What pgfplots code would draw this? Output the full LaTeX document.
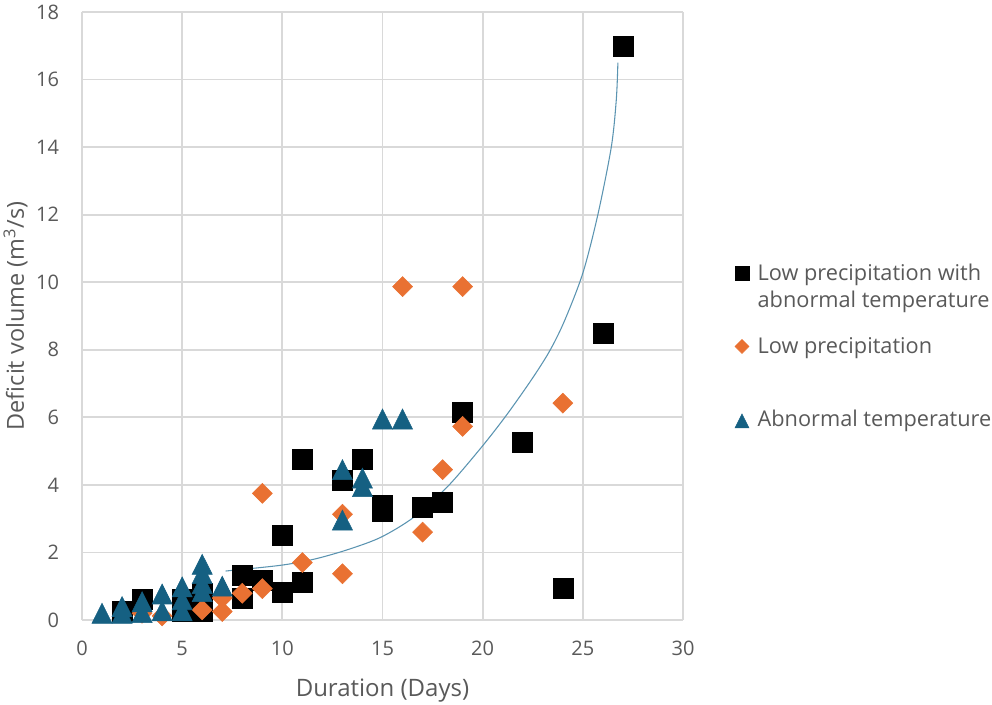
\documentclass[border=0pt]{standalone}
\usepackage{pgfplots}
\pgfplotsset{compat=1.18}
\usepackage{fontspec}
\setmainfont{Open Sans}
\definecolor{txtgray}{HTML}{595959}
\definecolor{gridgray}{HTML}{D9D9D9}
\definecolor{myorange}{HTML}{E97132}
\definecolor{myblue}{HTML}{156082}
\definecolor{trend}{HTML}{5B94B1}
\pgfplotsset{
  leg sq/.style={legend image code/.code={\draw[##1, mark size=5.25pt] plot coordinates {(0pt,5.25pt)};}},
  leg di/.style={legend image code/.code={\draw[##1, mark size=3.7pt] plot coordinates {(0pt,5.25pt)};}},
  leg tr/.style={legend image code/.code={\draw[##1, mark size=6.0pt] plot coordinates {(0pt,5.25pt)};}},
}
\begin{document}
\begin{tikzpicture}
\path[use as bounding box] (-61.5pt,-63pt) rectangle (682.5pt,465pt);
\begin{axis}[
  at={(0pt,0pt)}, anchor=south west,
  scale only axis, width=450.75pt, height=456pt,
  xmin=0, xmax=30, ymin=0, ymax=18,
  xtick={0,5,...,30}, ytick={0,2,...,18},
  grid=major,
  major grid style={draw=gridgray, line width=1.4pt},
  axis line style={draw=none},
  major tick length=0pt,
  clip=false,
  /pgf/number format/assume math mode=true,
  ticklabel style={font=\fontsize{15}{18}\selectfont, text=txtgray},
  xticklabel style={anchor=north, inner sep=0pt, yshift=-15.75pt},
  yticklabel style={anchor=east, inner sep=0pt, xshift=-17pt},
  xlabel={Duration (Days)},
  ylabel={Deficit volume (m\textsuperscript{3}/s)},
  label style={text=txtgray},
  xlabel style={font=\fontsize{18}{22}\selectfont, at={([yshift=-44pt]axis description cs:0.5,0)}, anchor=north, inner sep=0pt},
  ylabel style={font=\fontsize{17.6}{22}\selectfont, at={([xshift=-59pt]axis description cs:0,0.5)}, anchor=north, inner sep=0pt},
  legend style={
    at={(rel axis cs:1.0865,0.5938)}, anchor=north west,
    draw=none, fill=none, inner sep=0pt, outer sep=0pt,
    font=\fontsize{16.3}{20.25}\selectfont, text=txtgray,
    cells={anchor=base west, inner sep=0pt},
    column sep=4.5pt, row sep=37.2pt,
  },
]
% Low precipitation with abnormal temperature
\addplot[only marks, mark=square*, mark size=7.5pt, draw=black, fill=black, leg sq]
coordinates {
(2,0.27) (3,0.62) (5,0.6) (5,0.27) (6,0.8) (6,0.27) (8,1.32) (8,0.65) (9,1.18)
(10,0.82) (10,2.5) (11,1.12) (11,4.76) (13,4.14) (14,4.76) (15,3.4) (15,3.22)
(17,3.35) (18,3.5) (19,6.15) (22,5.25) (24,0.95) (26,8.5) (27,17.0)
};
\addlegendentry{\begin{tabular}[t]{@{}l@{}}Low precipitation with\\abnormal temperature\end{tabular}}
% trendline
\addplot[trend, line width=0.8pt, smooth, no marks, forget plot] coordinates {
(7.17,1.45) (9.92,1.62) (11.58,1.80) (13.25,2.08) (14.92,2.45) (16.58,3.05)
(18.25,3.95) (19.92,5.1) (21.17,6.05) (22.42,7.1) (23.33,7.95) (24.08,8.85)
(25,10.27) (25.75,12.0) (26.42,14.0) (26.67,15.4) (26.75,16.5)
};
% Low precipitation
\addplot[only marks, mark=square*, mark size=5.3pt, mark options={rotate=45}, draw=myorange, fill=myorange, leg di]
coordinates {
(3,0.2) (4,0.12) (6,0.3) (7,0.65) (7,0.25) (8,0.79) (9,0.93) (9,3.75) (11,1.7)
(13,3.13) (13,1.37) (16,9.87) (17,2.6) (18,4.45) (19,9.87) (19,5.73) (24,6.42)
};
\addlegendentry{Low precipitation}
% Abnormal temperature
\addplot[only marks, mark=triangle*, mark size=8.7pt, mark options={yshift=-2.5pt, yscale=1.15}, draw=myblue, fill=myblue, leg tr]
coordinates {
(1,0.2) (2,0.2) (2,0.4) (3,0.22) (3,0.54) (4,0.27) (4,0.77) (5,0.27) (5,0.6)
(5,0.98) (6,0.84) (6,1.08) (6,1.37) (6,1.65) (7,1.0) (13,4.45) (13,2.96)
(14,4.2) (14,3.95) (15,5.95) (16,5.95)
};
\addlegendentry{Abnormal temperature}
\end{axis}
\end{tikzpicture}
\end{document}
